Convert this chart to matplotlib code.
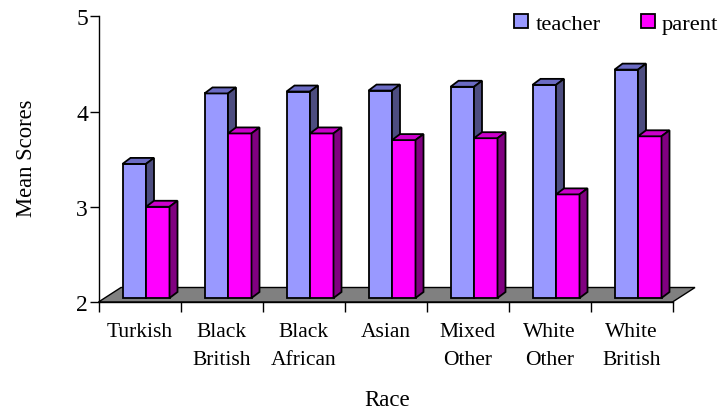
import matplotlib
matplotlib.use("Agg")
import matplotlib.pyplot as plt
from matplotlib.patches import Polygon, Patch

plt.rcParams['font.family'] = ['Liberation Serif', 'DejaVu Serif']

categories = ["Turkish", "Black\nBritish", "Black\nAfrican", "Asian", "Mixed\nOther", "White\nOther", "White\nBritish"]
teacher = [3.45, 4.19, 4.21, 4.22, 4.26, 4.28, 4.44]
parent = [3.00, 3.77, 3.77, 3.70, 3.72, 3.13, 3.74]
y_ticks = [2, 3, 4, 5]

W, H = 720, 410
L, R, T, B = 98.5, 672.5, 17.3, 303
fig = plt.figure(figsize=(W / 100, H / 100), dpi=100, facecolor="white")
ax = fig.add_axes([L / W, 1 - B / H, (R - L) / W, (B - T) / H])
ax.set_xlim(0, len(categories))
ax.set_ylim(2, 5)

px = len(categories) / (R - L)
py = 3 / (B - T)
dx, dy = 8 * px, 6 * py
base = 2 + 4 * py
bw = 23.5 * px
start = 24 * px
floor_dx, floor_dy = 22.5 * px, 14.5 * py

n = len(categories)
ax.add_patch(Polygon([(0, 2), (floor_dx, 2 + floor_dy), (n + floor_dx, 2 + floor_dy), (n, 2)],
                     closed=True, facecolor="#808080", edgecolor="black", lw=1.0, clip_on=False, zorder=1))


def bars3d(xs, vals, front, top, side):
    ax.bar(xs, [v - base for v in vals], width=bw, bottom=base, align="edge",
           color=front, edgecolor="black", lw=1.3, zorder=3, clip_on=False)
    for x, v in zip(xs, vals):
        ax.add_patch(Polygon([(x, v), (x + dx, v + dy), (x + bw + dx, v + dy), (x + bw, v)],
                             closed=True, facecolor=top, edgecolor="black", lw=1.3, zorder=3, clip_on=False))
        ax.add_patch(Polygon([(x + bw, v), (x + bw + dx, v + dy), (x + bw + dx, base + dy), (x + bw, base)],
                             closed=True, facecolor=side, edgecolor="black", lw=1.3, zorder=3, clip_on=False))


xs = [i + start for i in range(n)]
bars3d(xs, teacher, "#9999FF", "#6B6BC4", "#4D4D80")
bars3d([x + bw for x in xs], parent, "#FF00FF", "#CC00CC", "#800080")

for s in ("top", "right"):
    ax.spines[s].set_visible(False)
for s in ("left", "bottom"):
    ax.spines[s].set_linewidth(1.0)
    ax.spines[s].set_zorder(2)

ax.set_yticks(y_ticks)
ax.tick_params(axis="y", labelsize=17, length=6.5, width=1, pad=1)
ax.set_xticks(range(n + 1))
ax.set_xticklabels([])
ax.set_xticks([i + 0.5 for i in range(n)], minor=True)
ax.set_xticklabels(categories, minor=True, fontsize=15.5, linespacing=1.65, va="top")
ax.tick_params(axis="x", which="major", length=7, width=1)
ax.tick_params(axis="x", which="minor", length=0, pad=14.5)

ax.set_ylabel("Mean Scores", fontsize=16.3, labelpad=0)
ax.yaxis.set_label_coords((37 - L) / (R - L), (B - 158) / (B - T))
ax.set_xlabel("Race", fontsize=16.5)
ax.xaxis.set_label_coords((387 - L) / (R - L), (B - 401) / (B - T))
ax.xaxis.label.set_va("center")

handles = [Patch(facecolor="#9999FF", edgecolor="black", lw=1.3, label="teacher"),
           Patch(facecolor="#FF00FF", edgecolor="black", lw=1.3, label="parent")]
ax.legend(handles=handles, ncols=2, frameon=False, fontsize=16.2,
          handlelength=0.62, handleheight=0.62, handletextpad=0.32, columnspacing=1.8,
          loc="center right", bbox_to_anchor=((718.5 - L) / (R - L), (B - 25) / (B - T)),
          borderpad=0, borderaxespad=0)

fig.savefig("out.png", dpi=100)
